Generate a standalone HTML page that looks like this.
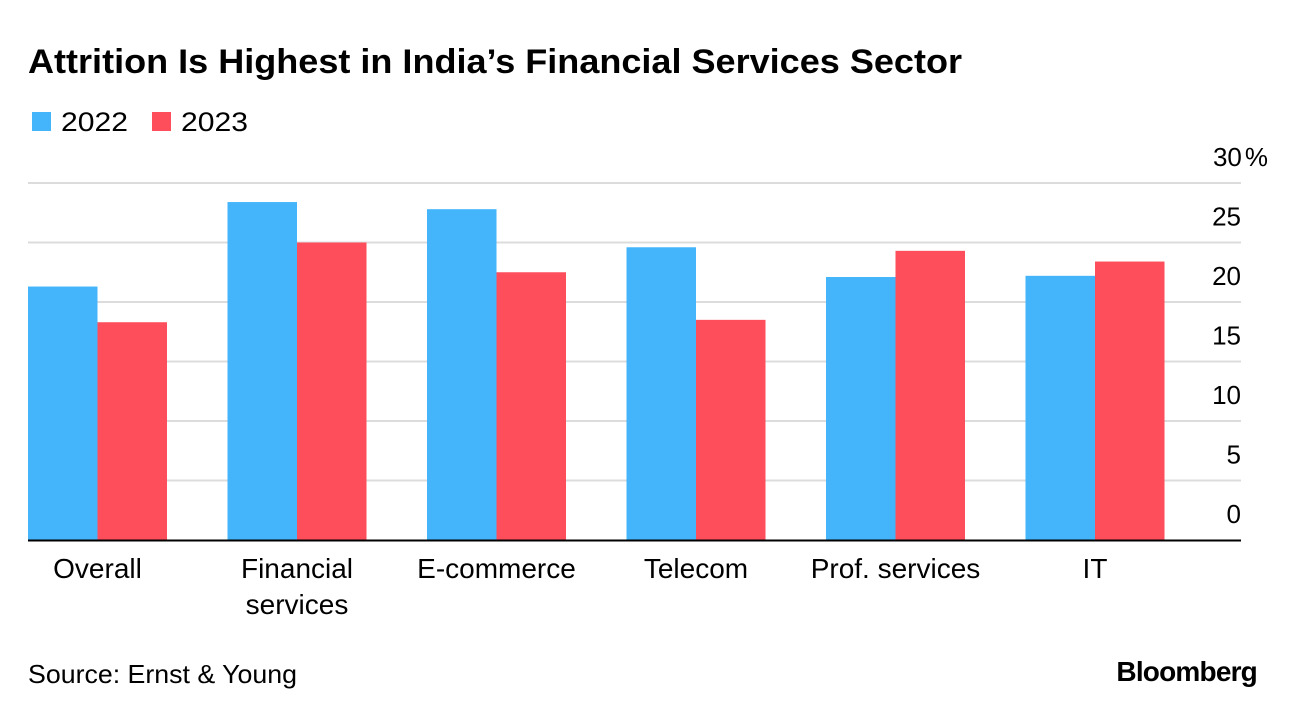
<!DOCTYPE html>
<html><head><meta charset="utf-8"><style>
body{margin:0;background:#fff;font-family:"Liberation Sans",sans-serif;}
#wrap{position:relative;width:1296px;height:716px;overflow:hidden;}
</style></head><body>
<div id="wrap">
<svg id="chart" width="1296" height="716">
<text x="28" y="73" font-size="34" font-weight="bold" fill="#000" textLength="934" lengthAdjust="spacingAndGlyphs">Attrition Is Highest in India’s Financial Services Sector</text>
<g>
<rect x="32" y="112" width="19" height="19" fill="#44b5fb"/>
<text x="61" y="131" font-size="27" fill="#000" textLength="67" lengthAdjust="spacingAndGlyphs">2022</text>
<rect x="152" y="112" width="19" height="19" fill="#ff4e5b"/>
<text x="181" y="131" font-size="27" fill="#000" textLength="67" lengthAdjust="spacingAndGlyphs">2023</text>
</g>
<g id="grid"></g><g id="bars"></g><g id="labels"></g>
<line x1="28" x2="1241" y1="540.5" y2="540.5" stroke="#000" stroke-width="2"/>
<text x="28" y="683" font-size="26" fill="#000" textLength="269" lengthAdjust="spacingAndGlyphs">Source: Ernst &amp; Young</text>
<text x="1257" y="681" font-size="28" font-weight="bold" fill="#000" text-anchor="end" letter-spacing="-0.8">Bloomberg</text>
</svg>
</div>
<script>
const categories=[["Overall"],["Financial","services"],["E-commerce"],["Telecom"],["Prof. services"],["IT"]];
const values2022=[21.3,28.4,27.8,24.6,22.1,22.2];
const values2023=[18.3,25.0,22.5,18.5,24.3,23.4];
const ticks=[0,5,10,15,20,25,30];
const NS="http://www.w3.org/2000/svg";
const y0=540,yTop=183,vMax=30;
function y(v){return y0-(v/vMax)*(y0-yTop);}
const bandStart=28,band=199.5,barW=69.5;
function bx(i){return bandStart+i*band;}
function mk(t,a,p){const e=document.createElementNS(NS,t);for(const k in a)e.setAttribute(k,a[k]);p.appendChild(e);return e;}
const grid=document.getElementById('grid'),bars=document.getElementById('bars'),labels=document.getElementById('labels');
ticks.forEach(t=>{
 if(t>0){const l=mk('line',{x1:28,x2:1241,y1:y(t),y2:y(t),stroke:'#dcdcdc','stroke-width':2},grid);
 
 }
 const tx=mk('text',{x:1241,y:y(t)-17,'font-size':26,'text-anchor':'end',fill:'#000'},grid);
 tx.textContent=String(t);
 if(t===30){const p=mk('tspan',{dx:3},tx);p.textContent='%';tx.setAttribute('x',1268);}
 
 
});
categories.forEach((c,i)=>{
 const a=mk('rect',{x:bx(i),y:y(values2022[i]),width:barW,height:y0-y(values2022[i]),fill:'#44b5fb'},bars);
 
 
 const b=mk('rect',{x:bx(i)+barW,y:y(values2023[i]),width:barW,height:y0-y(values2023[i]),fill:'#ff4e5b'},bars);
 
 
 const t=mk('text',{x:bx(i)+barW,y:578,'font-size':28,'text-anchor':'middle',fill:'#000'},labels);
 c.forEach((line,j)=>{const s=mk('tspan',{x:bx(i)+barW,dy:j?36:0},t);s.textContent=line;});
 
 
});
</script>
</body></html>
